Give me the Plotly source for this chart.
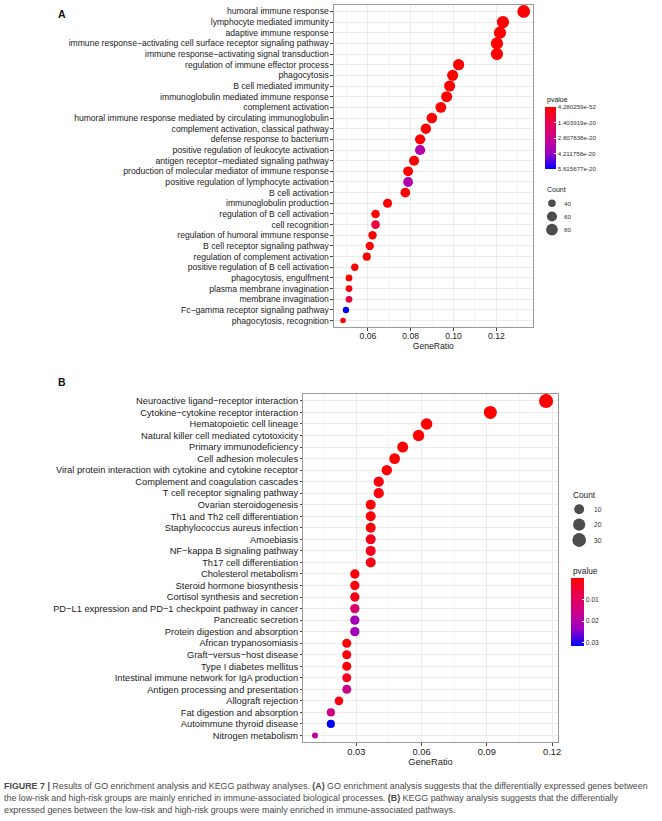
import math
import plotly.graph_objects as go

W, H = 662, 821
FONT = "Liberation Sans, Arial, Helvetica, sans-serif"
M = "\u2212"  # R draws hyphens in labels as minus signs

# ---------------- Panel A : GO enrichment ----------------
GO_TERMS = [
    "humoral immune response",
    "lymphocyte mediated immunity",
    "adaptive immune response",
    f"immune response{M}activating cell surface receptor signaling pathway",
    f"immune response{M}activating signal transduction",
    "regulation of immune effector process",
    "phagocytosis",
    "B cell mediated immunity",
    "immunoglobulin mediated immune response",
    "complement activation",
    "humoral immune response mediated by circulating immunoglobulin",
    "complement activation, classical pathway",
    "defense response to bacterium",
    "positive regulation of leukocyte activation",
    f"antigen receptor{M}mediated signaling pathway",
    "production of molecular mediator of immune response",
    "positive regulation of lymphocyte activation",
    "B cell activation",
    "immunoglobulin production",
    "regulation of B cell activation",
    "cell recognition",
    "regulation of humoral immune response",
    "B cell receptor signaling pathway",
    "regulation of complement activation",
    "positive regulation of B cell activation",
    "phagocytosis, engulfment",
    "plasma membrane invagination",
    "membrane invagination",
    f"Fc{M}gamma receptor signaling pathway",
    "phagocytosis, recognition",
]
GO_GENE_RATIO = [
    0.1328, 0.1231, 0.1217, 0.1203, 0.1203, 0.1024, 0.0996, 0.0982, 0.0968, 0.0941,
    0.0899, 0.0871, 0.0844, 0.0844, 0.0816, 0.0788, 0.0788, 0.0775, 0.0692, 0.0636,
    0.0636, 0.0622, 0.0609, 0.0595, 0.0539, 0.0512, 0.0512, 0.0512, 0.0498, 0.0484,
]
GO_COUNT = [
    96, 89, 88, 87, 87, 74, 72, 71, 70, 68,
    65, 63, 61, 61, 59, 57, 57, 56, 50, 46,
    46, 45, 44, 43, 39, 37, 37, 37, 36, 35,
]
GO_PVALUE = [
    4.280259e-52, 2.1e-45, 7.4e-44, 1.3e-41, 5.2e-40, 3.6e-33, 8.9e-35, 4.1e-37, 1.2e-36, 6.3e-38,
    2.2e-36, 9.5e-37, 3.4e-25, 3.5e-20, 1.7e-27, 2.4e-29, 3.6e-20, 5.1e-25, 8.2e-28, 1.9e-23,
    1.1e-20, 4.7e-27, 2.8e-26, 6.6e-29, 3.0e-22, 1.4e-24, 2.5e-21, 1.2e-20, 5.615677e-20, 4.6e-22,
]
GO_X_TICKS = [0.06, 0.08, 0.10, 0.12]
GO_P_BREAKS = [4.280259e-52, 1.403919e-20, 2.807838e-20, 4.211758e-20, 5.615677e-20]
GO_P_LABELS = ["4.280259e-52", "1.403919e-20", "2.807838e-20", "4.211758e-20", "5.615677e-20"]
GO_COUNT_BREAKS = [40, 60, 80]

# ---------------- Panel B : KEGG pathways ----------------
KEGG_TERMS = [
    f"Neuroactive ligand{M}receptor interaction",
    f"Cytokine{M}cytokine receptor interaction",
    "Hematopoietic cell lineage",
    "Natural killer cell mediated cytotoxicity",
    "Primary immunodeficiency",
    "Cell adhesion molecules",
    "Viral protein interaction with cytokine and cytokine receptor",
    "Complement and coagulation cascades",
    "T cell receptor signaling pathway",
    "Ovarian steroidogenesis",
    "Th1 and Th2 cell differentiation",
    "Staphylococcus aureus infection",
    "Amoebiasis",
    f"NF{M}kappa B signaling pathway",
    "Th17 cell differentiation",
    "Cholesterol metabolism",
    "Steroid hormone biosynthesis",
    "Cortisol synthesis and secretion",
    f"PD{M}L1 expression and PD{M}1 checkpoint pathway in cancer",
    "Pancreatic secretion",
    "Protein digestion and absorption",
    "African trypanosomiasis",
    f"Graft{M}versus{M}host disease",
    "Type I diabetes mellitus",
    "Intestinal immune network for IgA production",
    "Antigen processing and presentation",
    "Allograft rejection",
    "Fat digestion and absorption",
    "Autoimmune thyroid disease",
    "Nitrogen metabolism",
]
KEGG_GENE_RATIO = [
    0.1172, 0.0916, 0.0623, 0.0586, 0.0513, 0.0476, 0.0440, 0.0403, 0.0403, 0.0366,
    0.0366, 0.0366, 0.0366, 0.0366, 0.0366, 0.0293, 0.0293, 0.0293, 0.0293, 0.0293,
    0.0293, 0.0256, 0.0256, 0.0256, 0.0256, 0.0256, 0.0220, 0.0183, 0.0183, 0.0110,
]
KEGG_COUNT = [
    32, 25, 17, 16, 14, 13, 12, 11, 11, 10,
    10, 10, 10, 10, 10, 8, 8, 8, 8, 8,
    8, 7, 7, 7, 7, 7, 6, 5, 5, 3,
]
KEGG_PVALUE = [
    1.9e-05, 2.4e-07, 8.1e-09, 3.2e-06, 1.1e-07, 2.5e-04, 4.3e-05, 1.6e-03, 1.2e-03, 2.0e-04,
    3.1e-04, 6.5e-04, 2.4e-03, 3.0e-03, 1.5e-03, 6.0e-04, 9.0e-04, 1.8e-03, 1.15e-02, 2.25e-02,
    2.25e-02, 3.5e-04, 8.0e-04, 1.0e-03, 3.0e-03, 1.6e-02, 1.4e-03, 1.5e-02, 3.17e-02, 1.8e-02,
]
KEGG_X_TICKS = [0.03, 0.06, 0.09, 0.12]
KEGG_P_BREAKS = [0.01, 0.02, 0.03]
KEGG_P_LABELS = ["0.01", "0.02", "0.03"]
KEGG_COUNT_BREAKS = [10, 20, 30]

CAPTION = [
    "<b>FIGURE 7 |</b> Results of GO enrichment analysis and KEGG pathway analyses. <b>(A)</b> GO enrichment analysis suggests that the differentially expressed genes between",
    "the low-risk and high-risk groups are mainly enriched in immune-associated biological processes. <b>(B)</b> KEGG pathway analysis suggests that the differentially",
    "expressed genes between the low-risk and high-risk groups were mainly enriched in immune-associated pathways.",
]

# red -> blue gradient (interpolated in Lab like ggplot); low p = red
CSCALE = [[0.0, "#0000FF"], [0.25, "rgb(154,0,195)"], [0.5, "rgb(202,0,137)"],
          [0.75, "rgb(232,0,79)"], [1.0, "#FF0000"]]


def px_x(p):
    return p / W


def px_y(p):
    return 1 - p / H


def diam(values, cmin, cmax, k):
    """ggplot-like scale_size(range=c(3,8)) converted to pixel diameter."""
    out = []
    for c in values:
        t = max(0.0, (c - cmin) / (cmax - cmin))
        s = 3 + 5 * math.sqrt(t)
        out.append(k * (2.134 * s + 1.654))
    return out


def expand(vals, f=0.05):
    lo, hi = min(vals), max(vals)
    d = (hi - lo) * f
    return [lo - d, hi + d]


fig = go.Figure()
annotations = []

panels = [
    dict(terms=GO_TERMS, ratio=GO_GENE_RATIO, count=GO_COUNT, p=GO_PVALUE,
         xticks=GO_X_TICKS, minor=0.01, fmt=".2f",
         pbreaks=GO_P_BREAKS, plabels=GO_P_LABELS, cbreaks=GO_COUNT_BREAKS,
         k=0.68, font=8.6, box=(336, 5, 536, 327), label="A", label_xy=(62.5, 14),
         cb=dict(x=548, top=107.3, bot=169.3, th=11, title_y=100, tf=6.2, ttf=7),
         cnt=dict(title_xy=(548, 189.3), dot_x=555.3, lab_x=565.5, ys=(203.3, 229.7), ttf=7, tf=6.2),
         ax="", cax="coloraxis"),
    dict(terms=KEGG_TERMS, ratio=KEGG_GENE_RATIO, count=KEGG_COUNT, p=KEGG_PVALUE,
         xticks=KEGG_X_TICKS, minor=0.015, fmt=".2f",
         pbreaks=KEGG_P_BREAKS, plabels=KEGG_P_LABELS, cbreaks=KEGG_COUNT_BREAKS,
         k=0.75, font=9.3, box=(305.3, 394, 561, 742.4), label="B", label_xy=(62.5, 381.7),
         cb=dict(x=574.3, top=578.3, bot=646, th=13, title_y=570.7, tf=6.7, ttf=8.3),
         cnt=dict(title_xy=(574, 495), dot_x=582.7, lab_x=595.7, ys=(509.3, 540), ttf=8.3, tf=6.7),
         ax="2", cax="coloraxis2"),
]

layout_axes = {}
for i, P in enumerate(panels):
    ax = P["ax"]
    n = len(P["terms"])
    cmin, cmax = min(P["count"]), max(P["count"])
    sizes = diam(P["count"], cmin, cmax, P["k"])
    fig.add_trace(go.Scatter(
        x=P["ratio"], y=P["terms"], mode="markers",
        marker=dict(size=sizes, color=[-v for v in P["p"]], coloraxis=P["cax"],
                    line=dict(width=0), opacity=1),
        xaxis="x" + ax, yaxis="y" + ax, showlegend=False,
        hovertemplate="%{y}<br>GeneRatio=%{x}<extra></extra>"))

    x0, y0, x1, y1 = P["box"]
    layout_axes["xaxis" + ax] = dict(
        domain=[px_x(x0), px_x(x1)], range=expand(P["ratio"]), anchor="y" + ax,
        tickmode="array", tickvals=P["xticks"], ticktext=[format(v, P["fmt"]) for v in P["xticks"]],
        ticks="outside", ticklen=2.5, tickwidth=1, tickcolor="#444",
        ticklabelstandoff=-2,
        tickfont=dict(size=P["font"], color="#1a1a1a", family=FONT),
        showgrid=True, gridcolor="#ebebeb", gridwidth=1,
        minor=dict(dtick=P["minor"], tick0=0, showgrid=True, gridcolor="#efefef", gridwidth=0.6),
        showline=True, mirror=True, linecolor="#9a9a9a", linewidth=1, zeroline=False,
        title=dict(text="GeneRatio", font=dict(size=P["font"], color="#1a1a1a", family=FONT), standoff=1),
        fixedrange=True)
    layout_axes["yaxis" + ax] = dict(
        domain=[px_y(y1), px_y(y0)], type="category", anchor="x" + ax,
        categoryorder="array", categoryarray=list(reversed(P["terms"])),
        range=[-0.6, n - 0.4],
        ticks="outside", ticklen=2.5, tickwidth=1, tickcolor="#444",
        tickfont=dict(size=P["font"], color="#1a1a1a", family=FONT),
        showgrid=True, gridcolor="#ebebeb", gridwidth=1,
        showline=True, mirror=True, linecolor="#9a9a9a", linewidth=1, zeroline=False,
        fixedrange=True)

    # colour bar (p-value, small at top)
    cb = P["cb"]
    layout_axes[P["cax"]] = dict(
        colorscale=CSCALE, cmin=-max(P["p"]), cmax=-min(P["p"]),
        colorbar=dict(
            x=px_x(cb["x"]), xanchor="left", y=px_y((cb["top"] + cb["bot"]) / 2), yanchor="middle",
            len=cb["bot"] - cb["top"], lenmode="pixels", thickness=cb["th"], thicknessmode="pixels",
            xpad=0, ypad=0, outlinewidth=0,
            tickmode="array", tickvals=[-v for v in P["pbreaks"]], ticktext=P["plabels"],
            ticks="inside", ticklen=2, tickcolor="white", tickwidth=1,
            tickfont=dict(size=cb["tf"], color="#333", family=FONT),
            title=dict(text="", side="top")))
    annotations.append(dict(text="pvalue", x=px_x(cb["x"]), y=px_y(cb["title_y"]),
                            xref="paper", yref="paper", xanchor="left", yanchor="middle",
                            showarrow=False, font=dict(size=cb["ttf"], color="#1a1a1a", family=FONT)))

    # size legend (Count) drawn in a small helper axis
    cn = P["cnt"]
    hx, hy = "x" + str(3 + i), "y" + str(3 + i)
    b = P["cbreaks"]
    ytop_px, ybot_px = cn["ys"][0] - 8, cn["ys"][1] + 8
    per = (cn["ys"][1] - cn["ys"][0]) / (b[-1] - b[0])
    xl, xr = cn["dot_x"] - 8, cn["lab_x"] + 20
    layout_axes["xaxis" + str(3 + i)] = dict(
        domain=[px_x(xl), px_x(xr)], range=[xl - cn["dot_x"], xr - cn["dot_x"]],
        visible=False, anchor=hy, fixedrange=True)
    layout_axes["yaxis" + str(3 + i)] = dict(
        domain=[px_y(ybot_px), px_y(ytop_px)],
        range=[b[-1] + 8 / per, b[0] - 8 / per],
        visible=False, anchor=hx, fixedrange=True)
    fig.add_trace(go.Scatter(
        x=[0] * len(b), y=b, mode="markers",
        marker=dict(size=diam(b, cmin, cmax, P["k"]), color="black", line=dict(width=0)),
        xaxis=hx, yaxis=hy, showlegend=False, hoverinfo="skip"))
    for v in b:
        annotations.append(dict(text=str(v), x=cn["lab_x"] - cn["dot_x"], y=v, xref=hx, yref=hy,
                                xanchor="left", yanchor="middle", showarrow=False,
                                font=dict(size=cn["tf"], color="#333", family=FONT)))
    annotations.append(dict(text="Count", x=px_x(cn["title_xy"][0]), y=px_y(cn["title_xy"][1]),
                            xref="paper", yref="paper", xanchor="left", yanchor="middle",
                            showarrow=False, font=dict(size=cn["ttf"], color="#1a1a1a", family=FONT)))

    # panel letter
    annotations.append(dict(text="<b>%s</b>" % P["label"], x=px_x(P["label_xy"][0]),
                            y=px_y(P["label_xy"][1]), xref="paper", yref="paper",
                            xanchor="center", yanchor="middle", showarrow=False,
                            font=dict(size=10.5, color="#111", family=FONT)))

# caption
for j, line in enumerate(CAPTION):
    annotations.append(dict(text=line, x=px_x(2), y=px_y(785.5 + 12 * j), xref="paper", yref="paper",
                            xanchor="left", yanchor="middle", showarrow=False, align="left",
                            font=dict(size=8.9, color="#4a4a4a", family=FONT)))

fig.update_layout(
    width=W, height=H, margin=dict(l=0, r=0, t=0, b=0),
    paper_bgcolor="white", plot_bgcolor="white",
    font=dict(family=FONT, color="#1a1a1a"),
    hovermode=False,
    showlegend=False, annotations=annotations, **layout_axes)

fig.write_html("out.html", config={"displayModeBar": False, "staticPlot": True},
               post_script="document.body.style.margin='0px';")
